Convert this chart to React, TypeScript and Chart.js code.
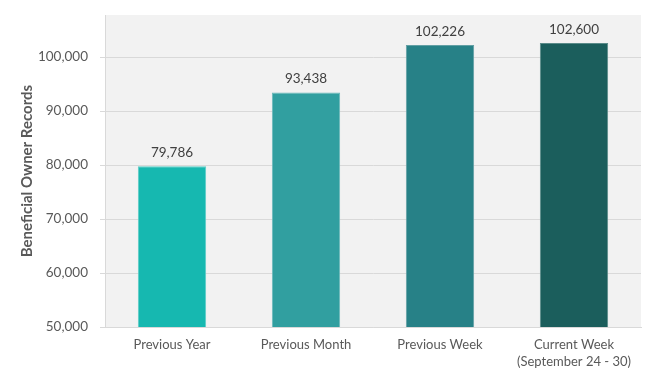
import React, { useEffect, useRef } from "react";
import { Chart, registerables } from "chart.js";

Chart.register(...registerables);

const categories: (string | string[])[] = [
  "Previous Year",
  "Previous Month",
  "Previous Week",
  ["Current Week", "(September 24 - 30)"],
];
const values = [79786, 93438, 102226, 102600];
const barColors = ["#16b8b0", "#319fa0", "#278187", "#1b5e5c"];
const borderColors = ["#5ccdc7", "#6ab9ba", "#629fa4", "#5a8b89"];
const yTickValues = [50000, 60000, 70000, 80000, 90000, 100000];
const yMin = 50000;
const yMax = 107800;
const yTitle = "Beneficial Owner Records";

const FONT = "Lato, 'Open Sans', sans-serif";

const bgPlugin = {
  id: "plotBg",
  beforeDraw(chart: any) {
    const { ctx, chartArea } = chart;
    ctx.save();
    ctx.fillStyle = "#f2f2f2";
    ctx.fillRect(chartArea.left, chartArea.top, chartArea.right - chartArea.left, chartArea.bottom - chartArea.top);
    ctx.restore();
  },
};

const labelPlugin = {
  id: "valueLabels",
  afterDatasetsDraw(chart: any) {
    const { ctx } = chart;
    const meta = chart.getDatasetMeta(0);
    ctx.save();
    ctx.font = `13.5px ${FONT}`;
    ctx.fillStyle = "#404040";
    ctx.textAlign = "center";
    ctx.textBaseline = "bottom";
    meta.data.forEach((bar: any, i: number) => {
      const v = chart.data.datasets[0].data[i] as number;
      ctx.fillText(v.toLocaleString("en-US"), bar.x, bar.y - 7);
    });
    ctx.restore();
  },
};

export default function App() {
  const ref = useRef<HTMLCanvasElement>(null);
  useEffect(() => {
    document.body.style.margin = "0";
    const chart = new Chart(ref.current!, {
      type: "bar",
      data: {
        labels: categories,
        datasets: [
          {
            data: values,
            backgroundColor: barColors,
            borderColor: borderColors,
            borderWidth: 1,
            barPercentage: 0.51,
            categoryPercentage: 1,
          },
        ],
      },
      options: {
        animation: false,
        responsive: false,
        maintainAspectRatio: false,
        layout: { padding: { top: 15, right: 15, left: 0, bottom: 0 } },
        plugins: { legend: { display: false }, tooltip: { enabled: false } },
        scales: {
          x: {
            grid: { display: false, drawTicks: false },
            border: { color: "#d9d9d9", width: 1 },
            ticks: { color: "#595959", font: { family: FONT, size: 13, lineHeight: 1.3 }, padding: 9, maxRotation: 0 },
            afterFit(scale: any) {
              scale.height = 52;
              scale.paddingLeft = 0;
              scale.paddingRight = 0;
            },
          },
          y: {
            min: yMin,
            max: yMax,
            afterBuildTicks(scale: any) {
              scale.ticks = yTickValues.map((v) => ({ value: v }));
            },
            grid: { color: "#d9d9d9", tickLength: 5, drawTicks: true },
            border: { color: "#d9d9d9", width: 1 },
            ticks: {
              color: "#595959",
              font: { family: FONT, size: 13.5 },
              padding: 12,
              callback: (v: any) => Number(v).toLocaleString("en-US"),
            },
            title: {
              display: true,
              text: yTitle,
              color: "#595959",
              font: { family: FONT, size: 15, weight: "bold" },
              padding: { top: 18, bottom: 0 },
            },
            afterFit(scale: any) {
              scale.width = 105;
              scale.paddingTop = 0;
              scale.paddingBottom = 0;
            },
          },
        },
      },
      plugins: [bgPlugin, labelPlugin],
    });
    return () => chart.destroy();
  }, []);
  return <canvas ref={ref} width={656} height={379} style={{ display: "block" }} />;
}
